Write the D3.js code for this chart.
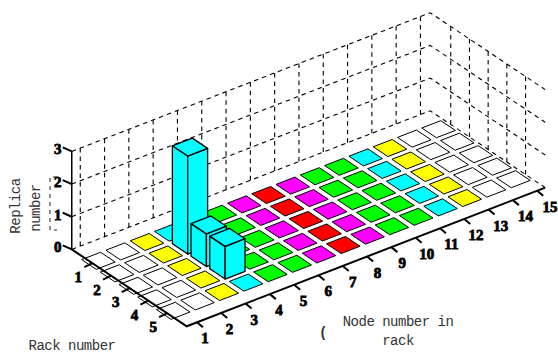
<!DOCTYPE html>
<html><head><meta charset="utf-8">
<script src="https://cdn.jsdelivr.net/npm/d3@7/dist/d3.min.js"></script>
<style>html,body{margin:0;padding:0;background:#fff;overflow:hidden}</style>
</head><body><svg id="c" width="558" height="353"></svg>
<script>
const racks = [1,2,3,4,5];
const nodes = [1,2,3,4,5,6,7,8,9,10,11,12,13,14,15];
const levels = [0,1,2,3];
const nodeColors = ["#ffffff","#ffffff","#ffff00","#00ffff","#00ff00","#00ff00","#ff00ff","#ff0000","#ff00ff","#00ff00","#00ff00","#00ffff","#ffff00","#ffffff","#ffffff"];
const node4Replicas = [0,3,1,1,0];
const barNode = 4;

const nodeRange=[0.75,15.5], rackRange=[-0.1,6.05];
const nx=d3.scaleLinear().domain([3,13]).range([0,243]);
const ny=d3.scaleLinear().domain([3,13]).range([0,-94]);
const rx=d3.scaleLinear().domain([1,5]).range([147,221.8]);
const ry=d3.scaleLinear().domain([1,5]).range([242,292]);
const zy=d3.scaleLinear().domain([0,3]).range([0,-98]);
const P=(n,r,z=0)=>[nx(n)+rx(r),ny(n)+ry(r)+zy(z)];
const svg=d3.select("#c");
const line=d3.line();
const pathOf=pts=>line(pts)+"Z";

const grid=svg.append("g").attr("fill","none").attr("stroke","#000").attr("stroke-width",1.1).attr("stroke-dasharray","4.5,4");
levels.forEach(z=>{
  grid.append("path").attr("d",line([P(nodeRange[0],rackRange[0],z),P(nodeRange[1],rackRange[0],z),P(nodeRange[1],rackRange[1],z)]));
});
nodes.forEach(n=>grid.append("path").attr("d",line([P(n+0.1,rackRange[0],0),P(n+0.1,rackRange[0],3)])));
racks.forEach(r=>grid.append("path").attr("d",line([P(nodeRange[1],r,0),P(nodeRange[1],r,3)])));

const h=0.39, hb=0.41;
const cells=[];
racks.forEach(r=>nodes.forEach((n,i)=>cells.push({n,r,color:nodeColors[i]})));
svg.append("g").selectAll("path").data(cells).join("path")
  .attr("d",d=>pathOf([P(d.n-h,d.r-h),P(d.n+h,d.r-h),P(d.n+h,d.r+h),P(d.n-h,d.r+h)]))
  .attr("fill",d=>d.color).attr("stroke","#000").attr("stroke-width",1);

const bars=svg.append("g");
racks.forEach((r,i)=>{
  const v=node4Replicas[i]; if(!v) return;
  const n=barNode, c="#00ffff";
  const faces=[
    [P(n-hb,r-hb,0),P(n-hb,r+hb,0),P(n-hb,r+hb,v),P(n-hb,r-hb,v)],
    [P(n-hb,r+hb,0),P(n+hb,r+hb,0),P(n+hb,r+hb,v),P(n-hb,r+hb,v)],
    [P(n-hb,r-hb,v),P(n+hb,r-hb,v),P(n+hb,r+hb,v),P(n-hb,r+hb,v)]
  ];
  bars.selectAll(null).data(faces).join("path").attr("d",pathOf).attr("fill",c).attr("stroke","#000").attr("stroke-width",1.3).attr("stroke-linejoin","round");
});

const axes=svg.append("g").attr("fill","none").attr("stroke","#000");
axes.append("path").attr("stroke-width",2).attr("d",line([P(nodeRange[0],rackRange[0]),P(nodeRange[0],rackRange[1]),P(nodeRange[1],rackRange[1])]));
axes.append("path").attr("stroke-width",1.5).attr("d",line([P(nodeRange[0],rackRange[0],0),P(nodeRange[0],rackRange[0],3)]));
const tk=svg.append("g").attr("stroke","#000").attr("stroke-width",2);
const lab=svg.append("g").attr("font-family","'Liberation Serif',serif").attr("font-weight","bold").attr("font-size",15).attr("fill","#000").attr("stroke","#000").attr("stroke-width",0.8).attr("text-anchor","middle");
levels.forEach(z=>{
  const p=P(nodeRange[0],rackRange[0],z);
  tk.append("line").attr("x1",p[0]).attr("y1",p[1]).attr("x2",p[0]-9).attr("y2",p[1]-4);
  lab.append("text").attr("x",p[0]-14).attr("y",p[1]+3).text(z);
});
racks.forEach(r=>{
  const p=P(nodeRange[0],r);
  tk.append("line").attr("x1",p[0]).attr("y1",p[1]).attr("x2",p[0]-8).attr("y2",p[1]+4);
  lab.append("text").attr("x",p[0]-14).attr("y",p[1]+19).text(r);
});
nodes.forEach(n=>{
  const p=P(n+0.17,rackRange[1]);
  tk.append("line").attr("x1",p[0]).attr("y1",p[1]).attr("x2",p[0]+6).attr("y2",p[1]+5);
  lab.append("text").attr("x",p[0]+8+(n-1)*0.35).attr("y",p[1]+21).text(n);
});

// selection-frame remnant beside the axis in the original picture
svg.append("path").attr("fill","none").attr("stroke","#222").attr("stroke-width",1).attr("stroke-dasharray","4,4")
  .attr("d","M57,177H50V230H57");

const title=svg.append("g").attr("font-family","'Liberation Mono',monospace").attr("font-size",14).attr("letter-spacing",-0.5).attr("fill","#333").attr("text-anchor","middle");
title.append("text").attr("transform","translate(20,206) rotate(-90)").text("Replica");
title.append("text").attr("transform","translate(40,208) rotate(-90)").text("number");
title.append("text").attr("x",72).attr("y",349.5).text("Rack number");
title.append("text").attr("x",398).attr("y",326).text("Node number in");
title.append("text").attr("x",398).attr("y",345).text("rack");
title.append("text").attr("x",323).attr("y",337).attr("font-weight","bold").text("(");
</script></body></html>
